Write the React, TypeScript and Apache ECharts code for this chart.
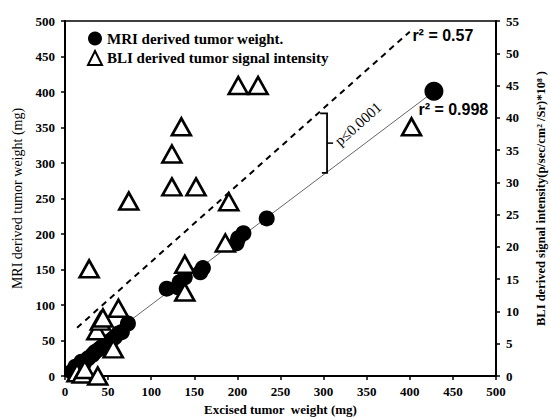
import React, { useEffect, useRef } from "react";
import * as echarts from "echarts";

// Excised tumor weight (mg) vs MRI derived weight (mg)
const mriExcised = [8, 12, 15, 19, 22, 27, 32, 35, 40, 43, 47, 50, 55, 58, 62, 66, 73, 118, 131, 133, 139, 157, 160, 199, 201, 207, 234, 428];
const mriWeight = [6, 13, 10, 20, 18, 25, 30, 34, 38, 41, 45, 48, 52, 55, 60, 62, 74, 123, 125, 132, 139, 146, 152, 187, 194, 201, 222, 401];

// Excised tumor weight (mg) vs BLI signal (p/sec/cm2/Sr)*10^8
const bliExcised = [14, 20, 23, 38, 28, 37, 41, 44, 56, 62, 74, 124, 124, 135, 152, 139, 139, 186, 190, 201, 224, 402];
const bliSignal = [0.5, 0.3, 1, 0, 16.6, 7, 8.5, 9, 4.2, 10.5, 27.1, 34.4, 29.3, 38.6, 29.3, 17.3, 13, 20.6, 27, 45, 45, 38.6];

// Fit lines (left axis units)
const mriFitX = [10, 425];
const mriFitY = [18, 398];
const bliFitX = [14, 400];
const bliFitY = [68, 485];

const seriesNames = ["MRI derived tumor weight.", "BLI derived tumor signal intensity"];
const r2Labels = ["r\u00B2 = 0.57", "r\u00B2 = 0.998"];
const pLabel = "p\u22640.0001";

const serif = "'Liberation Serif', 'Times New Roman', serif";
const sans = "'Liberation Sans', Arial, sans-serif";

export default function App() {
  const ref = useRef<HTMLDivElement>(null);
  useEffect(() => {
    if (!ref.current) return;
    const chart = echarts.init(ref.current, null, { renderer: "svg" });
    const tickLabel = { fontFamily: serif, fontWeight: "bold" as const, fontSize: 13, color: "#000" };
    const option: any = {
      animation: false,
      backgroundColor: "#fff",
      grid: {
        left: 65, right: 54, top: 21, bottom: 43,
        outerBoundsMode: "none", containLabel: false,
        show: true, borderColor: "#000", borderWidth: 1.5, backgroundColor: "transparent",
      },
      legend: {
        left: 82,
        top: 26,
        orient: "vertical",
        itemGap: 4,
        itemWidth: 14,
        itemHeight: 14,
        data: [
          { name: seriesNames[0], icon: "circle" },
          { name: seriesNames[1], icon: "triangle" },
        ],
        textStyle: { fontFamily: serif, fontWeight: "bold", fontSize: 15, color: "#000" },
      },
      xAxis: {
        type: "value",
        min: 0,
        max: 500,
        interval: 50,
        name: "Excised tumor  weight (mg)",
        nameLocation: "middle",
        nameGap: 25,
        nameTextStyle: { fontFamily: serif, fontWeight: "bold", fontSize: 13, color: "#000" },
        axisLine: { show: true, lineStyle: { color: "#000", width: 2 } },
        axisTick: { show: true, length: 4, lineStyle: { color: "#000", width: 1.5 } },
        axisLabel: { ...tickLabel, margin: 9 },
        splitLine: { show: false },
      },
      yAxis: [
        {
          type: "value",
          min: 0,
          max: 500,
          interval: 50,
          name: "MRI derived tumor weight (mg)",
          nameLocation: "middle",
          nameRotate: 90,
          nameGap: 40,
          nameTextStyle: { fontFamily: serif, fontSize: 14, color: "#000" },
          axisLine: { show: true, lineStyle: { color: "#000", width: 2 } },
          axisTick: { show: true, length: 4, lineStyle: { color: "#000", width: 1.5 } },
          axisLabel: { ...tickLabel, margin: 10 },
          splitLine: { show: false },
        },
        {
          type: "value",
          position: "right",
          min: 0,
          max: 55,
          interval: 5,
          name: "BLI derived signal intensity(p/sec/cm\u00B2 /Sr)*10\u2078 )",
          nameLocation: "middle",
          nameRotate: 90,
          nameGap: 38,
          nameTextStyle: { fontFamily: serif, fontWeight: "bold", fontSize: 12.5, color: "#000" },
          axisLine: { show: true, lineStyle: { color: "#000", width: 2 } },
          axisTick: { show: true, length: 4, lineStyle: { color: "#000", width: 1.5 } },
          axisLabel: { ...tickLabel, margin: 10 },
          splitLine: { show: false },
        },
      ],
      series: [
        {
          type: "line",
          data: mriFitX.map((x, i) => [x, mriFitY[i]]),
          symbol: "none",
          lineStyle: { color: "#666", width: 1 },
          z: 1,
          silent: true,
        },
        {
          type: "line",
          data: bliFitX.map((x, i) => [x, bliFitY[i]]),
          symbol: "none",
          lineStyle: { color: "#000", width: 2, type: [6, 5] },
          z: 1,
          silent: true,
        },
        {
          name: seriesNames[0],
          type: "scatter",
          data: mriExcised.map((x, i) => [x, mriWeight[i]]),
          symbol: "circle",
          symbolSize: (v: number[]) => (v[0] > 400 ? 19 : 16),
          itemStyle: { color: "#000", opacity: 1 },
          z: 3,
        },
        {
          name: seriesNames[1],
          type: "scatter",
          yAxisIndex: 1,
          data: bliExcised.map((x, i) => [x, bliSignal[i]]),
          symbol: "triangle",
          symbolSize: [19, 17],
          itemStyle: { color: "#fff", borderColor: "#000", borderWidth: 2.6, opacity: 1 },
          z: 4,
        },
      ],
    };
    chart.setOption(option);

    const px = (x: number, y: number) => chart.convertToPixel({ xAxisIndex: 0, yAxisIndex: 0 }, [x, y]) as number[];
    const a = px(bliFitX[0], bliFitY[0]);
    const b = px(bliFitX[1], bliFitY[1]);
    const ang = Math.atan2(a[1] - b[1], b[0] - a[0]);
    const bt = px(304, 370);
    const bb = px(304, 286);
    const bm = px(304, 328);
    const tl = px(296, 370);
    const bl = px(298, 286);
    const mr = px(311, 328);
    const pc = px(340, 355);
    const r1 = px(403, 480);
    const r2 = px(410, 375);

    chart.setOption({
      graphic: [
        {
          type: "polyline",
          shape: { points: [[tl[0], bt[1]], [bt[0], bt[1]], [bb[0], bb[1]], [bl[0], bb[1]]] },
          style: { stroke: "#000", lineWidth: 1.8, fill: "none" },
          z: 10,
        },
        {
          type: "line",
          shape: { x1: bm[0], y1: bm[1], x2: mr[0], y2: bm[1] },
          style: { stroke: "#000", lineWidth: 1.5 },
          z: 10,
        },
        {
          type: "text",
          x: pc[0],
          y: pc[1],
          rotation: ang,
          style: { text: pLabel, fontFamily: serif, fontSize: 15, fill: "#000", align: "center", verticalAlign: "middle" },
          z: 10,
        },
        {
          type: "text",
          x: r1[0],
          y: r1[1],
          style: { text: r2Labels[0], fontFamily: sans, fontWeight: "bold", fontSize: 16, fill: "#000", align: "left", verticalAlign: "middle" },
          z: 10,
        },
        {
          type: "text",
          x: r2[0],
          y: r2[1],
          style: { text: r2Labels[1], fontFamily: sans, fontWeight: "bold", fontSize: 16, fill: "#000", align: "left", verticalAlign: "middle" },
          z: 10,
        },
      ],
    });
    return () => chart.dispose();
  }, []);
  return <div ref={ref} style={{ width: 550, height: 419, position: "fixed", left: 0, top: 0 }} />;
}
